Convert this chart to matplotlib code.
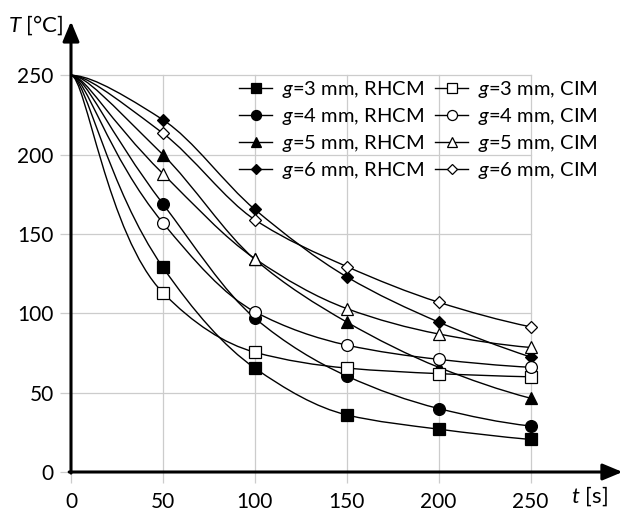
import matplotlib
matplotlib.use("Agg")
import matplotlib.pyplot as plt
from matplotlib.path import Path
from matplotlib.patches import PathPatch
from matplotlib.lines import Line2D

plt.rcParams['font.family'] = ['Lato', 'DejaVu Sans']
plt.rcParams['mathtext.fontset'] = 'custom'
plt.rcParams['mathtext.rm'] = 'Lato'
plt.rcParams['mathtext.it'] = 'Lato:italic'

# time [s]
t = [0, 50, 100, 150, 200, 250]

# temperature [°C], RHCM
rhcm_g3 = [250, 129, 65.5, 36, 27, 20.5]
rhcm_g4 = [250, 169, 97, 60.5, 40, 29]
rhcm_g5 = [250, 200, 134, 94.5, 66, 46.5]
rhcm_g6 = [250, 222, 165.5, 123, 94.5, 72.5]

# temperature [°C], CIM
cim_g3 = [250, 113, 75.5, 65.5, 62, 60]
cim_g4 = [250, 157, 101, 80, 71, 66]
cim_g5 = [250, 188, 134.5, 103, 87, 78.5]
cim_g6 = [250, 213.5, 159, 129.5, 107, 91.5]

gaps = [3, 4, 5, 6]
markers = ['s', 'o', '^', 'D']
msizes = [8, 8.5, 8.5, 6.5]
ticks = [0, 50, 100, 150, 200, 250]


def slopes(x, y):
    # shape preserving slopes (harmonic mean), flat start
    n = len(x)
    d = [(y[i + 1] - y[i]) / (x[i + 1] - x[i]) for i in range(n - 1)]
    m = [0.0] * n
    for i in range(1, n - 1):
        if d[i - 1] * d[i] > 0:
            m[i] = 2 / (1 / d[i - 1] + 1 / d[i])
    end = (3 * d[-1] - d[-2]) / 2
    if end * d[-1] <= 0:
        end = 0.0
    m[-1] = end
    return m


def smooth_path(x, y):
    m = slopes(x, y)
    verts = [(x[0], y[0])]
    codes = [Path.MOVETO]
    for i in range(len(x) - 1):
        h = x[i + 1] - x[i]
        if i == 0:
            a, b = 0.16 * h, 0.6 * h
        else:
            a, b = h / 3, h / 3
        c1 = (x[i] + a, y[i] + a * m[i])
        c2 = (x[i + 1] - b, y[i + 1] - b * m[i + 1])
        verts += [c1, c2, (x[i + 1], y[i + 1])]
        codes += [Path.CURVE4] * 3
    return Path(verts, codes)


fig = plt.figure(figsize=(6.2, 5.13), dpi=100)
ax = fig.add_axes([71 / 620, 41 / 513, 546 / 620, 449 / 513])
ax.set_xlim(0, 297)
ax.set_ylim(0, 283)
for s in ax.spines.values():
    s.set_visible(False)

grid_c = '#cccccc'
for v in ticks[1:]:
    ax.plot([0, 250], [v, v], color=grid_c, lw=0.9, zorder=1)
    ax.plot([v, v], [0, 250], color=grid_c, lw=0.9, zorder=1)

ax.set_xticks(ticks)
ax.set_yticks(ticks)
ax.tick_params(axis='both', direction='out', length=8, width=0.9,
               color=grid_c, labelsize=15)
ax.tick_params(axis='x', pad=6.5)
ax.tick_params(axis='y', pad=4.5)

arrow = dict(arrowstyle='-|>,head_length=0.6,head_width=0.25', lw=2.2,
             color='black', mutation_scale=20, shrinkA=0, shrinkB=0)
ax.annotate('', xy=(300, 0), xytext=(-1, 0), arrowprops=arrow,
            annotation_clip=False, zorder=5)
ax.annotate('', xy=(0, 284), xytext=(0, -0.7), arrowprops=arrow,
            annotation_clip=False, zorder=5)

series_r = [rhcm_g3, rhcm_g4, rhcm_g5, rhcm_g6]
series_c = [cim_g3, cim_g4, cim_g5, cim_g6]
handles = []
labels = []
for fill, group, tag in [('black', series_r, 'RHCM'), ('white', series_c, 'CIM')]:
    for g, m, ms, vals in zip(gaps, markers, msizes, group):
        ax.add_patch(PathPatch(smooth_path(t, vals), fill=False, lw=1.0,
                               ec='black', zorder=3))
        ax.plot(t[1:], vals[1:], ls='none', marker=m, ms=ms, mfc=fill,
                mec='black', mew=0.9, zorder=4)
        handles.append(Line2D([], [], color='black', lw=1.0, marker=m,
                              ms=ms * 0.85, mfc=fill, mec='black', mew=0.9))
        labels.append('$g$=%d mm, %s' % (g, tag))

ax.legend(handles, labels, ncol=2, loc='upper left', frameon=False,
          bbox_to_anchor=(239 / 620, 1 - 79 / 513), bbox_transform=fig.transFigure,
          borderaxespad=0, borderpad=0, fontsize=14.5, handlelength=1.64,
          handletextpad=0.5, columnspacing=0.55, labelspacing=0.3)

fig.text(8 / 620, 1 - 25 / 513, '$T$ [°C]', fontsize=16, va='center', ha='left')
fig.text(608 / 620, 1 - 496 / 513, '$t$ [s]', fontsize=16, va='center', ha='right')

fig.savefig('out.png', dpi=100)
